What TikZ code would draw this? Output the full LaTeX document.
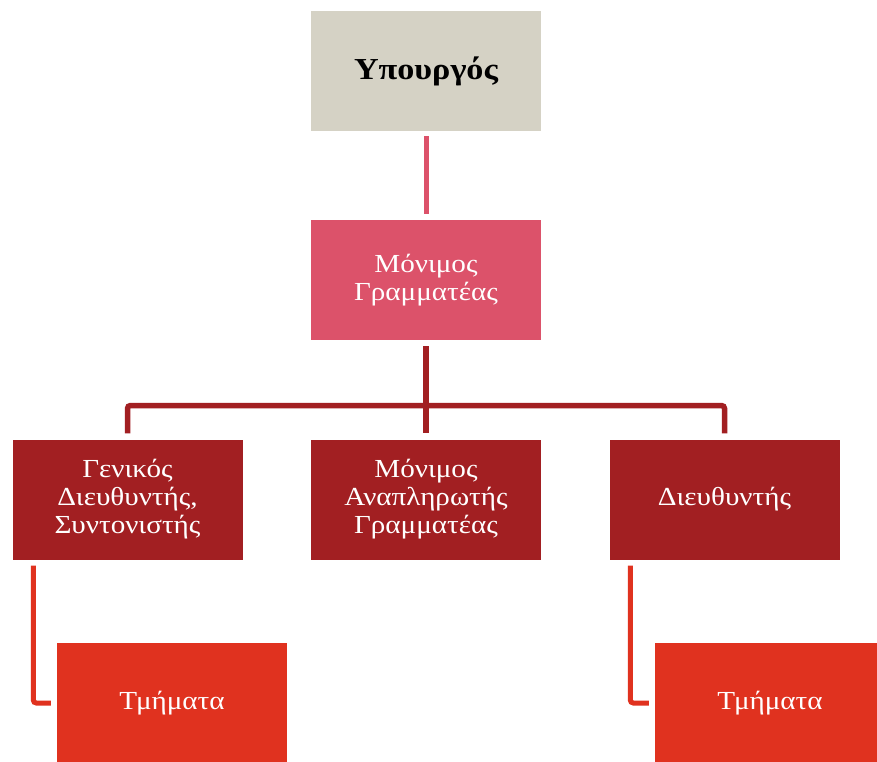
\documentclass[tikz,border=0pt]{standalone}
\usepackage{fontspec}
\setmainfont[FakeStretch=1.12]{Liberation Serif}
\definecolor{cbeige}{HTML}{D5D2C5}
\definecolor{cpink}{HTML}{DC526A}
\definecolor{cdark}{HTML}{A21F22}
\definecolor{cred}{HTML}{E0321F}
\tikzset{
  orgbox/.style={rectangle, minimum width=230pt, minimum height=120pt, inner sep=0pt,
    align=center, text=white, font=\fontsize{26}{28}\selectfont},
  topbox/.style={orgbox, fill=cbeige, text=black, font=\fontsize{30.5}{32}\selectfont\bfseries},
  pinkbox/.style={orgbox, fill=cpink},
  darkbox/.style={orgbox, fill=cdark},
  redbox/.style={orgbox, fill=cred},
  pinkline/.style={draw=cpink, line width=5pt},
  darkline/.style={draw=cdark, line width=5.5pt, rounded corners=3pt},
  redline/.style={draw=cred, line width=5pt, rounded corners=3pt},
}
\begin{document}
\begin{tikzpicture}[x=1pt,y=-1pt]
\useasboundingbox (0,0) rectangle (877,761);
\clip (0,0) rectangle (877,761);
\fill[white] (0,0) rectangle (877,761);
\node[topbox] (top) at (426,71) {Υπουργός};
\node[pinkbox] (sec) at (426,280) {Μόνιμος\\Γραμματέας};
\node[darkbox] (gd) at (127.5,499.5) {Γενικός\\Διευθυντής,\\Συντονιστής};
\node[darkbox] (ma) at (426,499.5) {Μόνιμος\\Αναπληρωτής\\Γραμματέας};
\node[darkbox] (di) at (724.5,499.5) {Διευθυντής};
\node[redbox] (t1) at (172,703) {Τμήματα};
\node[redbox] (t2) at (770,703) {Τμήματα};
\coordinate (hb) at (426,405.5);
\draw[pinkline] ([yshift=-5pt]top.south) -- ([yshift=6pt]sec.north);
\draw[darkline] ([yshift=6pt]gd.north) |- (hb) -| ([yshift=6pt]di.north);
\draw[darkline] ([yshift=-6pt]sec.south) -- ([yshift=6pt]ma.north);
\draw[redline] ([xshift=21pt,yshift=-6pt]gd.south west) |- ([xshift=-6pt]t1.west);
\draw[redline] ([xshift=21pt,yshift=-6pt]di.south west) |- ([xshift=-6pt]t2.west);
\end{tikzpicture}
\end{document}
